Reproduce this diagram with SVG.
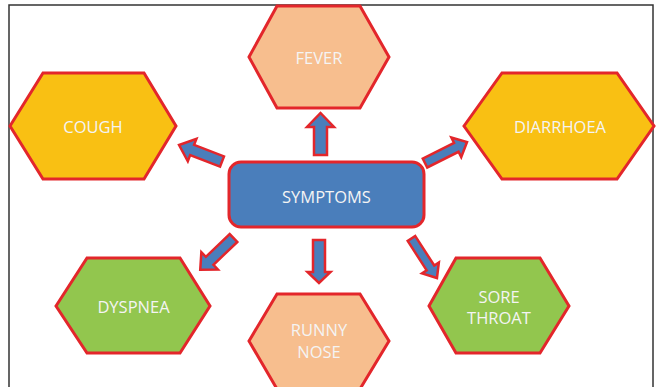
<svg xmlns="http://www.w3.org/2000/svg" width="657" height="387" viewBox="0 0 657 387">
<style>
.hex{stroke:#E3262B;stroke-width:3;stroke-linejoin:miter}
.yel{fill:#F9C013}
.pea{fill:#F7BE8E}
.grn{fill:#92C64E}
.lbl{font-family:"Open Sans","Liberation Sans",Arial,sans-serif;font-size:16.5px;fill:#F4F4F4;text-anchor:middle}
.arr{fill:#4A7EBB;stroke:#E3262B;stroke-width:2.5;stroke-linejoin:miter}
</style>
<rect x="9" y="5" width="644" height="400" fill="#FFFFFF" stroke="#333333" stroke-width="1.5"/>
<g id="connectors">
<path class="arr" transform="translate(320.5,155) rotate(-90)" d="M0,-6.5 L28,-6.5 L28,-13.5 L42,0 L28,13.5 L28,6.5 L0,6.5 Z"/>
<path class="arr" transform="translate(222,161.5) rotate(201)" d="M0,-5.5 L32,-5.5 L32,-12 L46,0 L32,12 L32,5.5 L0,5.5 Z"/>
<path class="arr" transform="translate(425,163) rotate(-26.6)" d="M0,-5 L35,-5 L35,-11 L47,0 L35,11 L35,5 L0,5 Z"/>
<path class="arr" transform="translate(233.5,238) rotate(136.3)" d="M0,-5.5 L33,-5.5 L33,-12 L46,0 L33,12 L33,5.5 L0,5.5 Z"/>
<path class="arr" transform="translate(319,240) rotate(90)" d="M0,-6 L32,-6 L32,-11.5 L43,0 L32,11.5 L32,6 L0,6 Z"/>
<path class="arr" transform="translate(411.5,238.5) rotate(57.2)" d="M0,-4.5 L35,-4.5 L35,-10 L47,0 L35,10 L35,4.5 L0,4.5 Z"/>
</g>
<g id="symptoms">
<rect x="229" y="162" width="195" height="65" rx="12" ry="12" fill="#4A7EBB" stroke="#E3262B" stroke-width="3"/>
<text class="lbl" x="326.5" y="202.5">SYMPTOMS</text>
</g>
<g id="fever">
<polygon class="hex pea" points="249,57 277,6 360,6 389,57 360,108 277,108"/>
<text class="lbl" x="319" y="64">FEVER</text>
</g>
<g id="cough">
<polygon class="hex yel" points="10,126 43,73 144,73 176,126 144,179 43,179"/>
<text class="lbl" x="93" y="133">COUGH</text>
</g>
<g id="diarrhoea">
<polygon class="hex yel" points="464,126 502,73 617,73 654,126 617,179 502,179"/>
<text class="lbl" x="560" y="133">DIARRHOEA</text>
</g>
<g id="dyspnea">
<polygon class="hex grn" points="56,306 87,258 180,258 210,306 180,353 87,353"/>
<text class="lbl" x="133.5" y="313">DYSPNEA</text>
</g>
<g id="runny-nose">
<polygon class="hex pea" points="249,341 277,294 360,294 389,341 360,389 277,389"/>
<text class="lbl" x="319" y="336">RUNNY</text>
<text class="lbl" x="319" y="358">NOSE</text>
</g>
<g id="sore-throat">
<polygon class="hex grn" points="429,306 456,258 540,258 569,306 540,353 456,353"/>
<text class="lbl" x="499" y="302.5">SORE</text>
<text class="lbl" x="499" y="323.5">THROAT</text>
</g>
</svg>
